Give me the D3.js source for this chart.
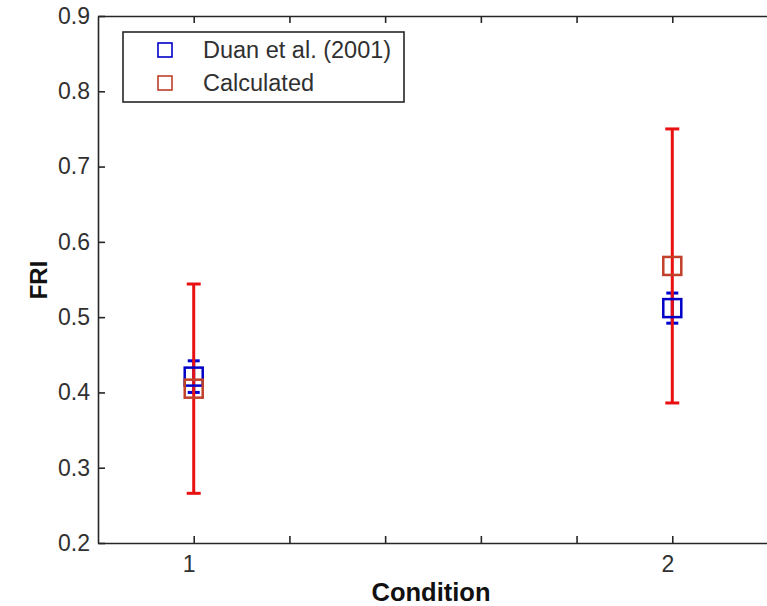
<!DOCTYPE html>
<meta charset="utf-8">
<style>
	body { margin: 0; background: #fff; font-family: Arial, "Liberation Sans", sans-serif; }
	.axis path, .axis line { stroke: #262626; stroke-width: 1.6; fill: none; }
	.axis text { fill: #303030; font-size: 23px; font-family: Arial, "Liberation Sans", sans-serif; }
</style>
<body>
<svg id="chart" width="767" height="606"></svg>
<script src="https://d3js.org/d3.v7.min.js"></script>
<script>
	// data
	var conditions = [1, 2];
	var duanMean = [0.421, 0.512];
	var duanErr = [0.021, 0.020];
	var calcMean = [0.405, 0.568];
	var calcErr = [0.139, 0.182];
	var seriesNames = ["Duan et al. (2001)", "Calculated"];
	var xTicks = [1, 1.2, 1.4, 1.6, 1.8, 2];
	var yTicks = [0.2, 0.3, 0.4, 0.5, 0.6, 0.7, 0.8, 0.9];

	var svg = d3.select("#chart"),
		mLeft = 98, mTop = 16, mBottom = 543, mRight = 768;

	var x = d3.scaleLinear().domain([0.8, 2.2]).range([mLeft, mRight]);
	var y = d3.scaleLinear().domain([0.2, 0.9]).range([mBottom, mTop]);

	// axes, ticks pointing inward like matlab
	svg.append("g")
		.attr("class", "axis")
		.attr("transform", "translate(0," + mBottom + ")")
		.call(d3.axisBottom(x).tickValues(xTicks).tickSizeInner(-7).tickSizeOuter(0).tickPadding(13)
			.tickFormat(function(d) { return (d == 1 || d == 2) ? d : ""; }))
		.selectAll("text").attr("dx", -5);

	svg.append("g")
		.attr("class", "axis")
		.attr("transform", "translate(0," + mTop + ")")
		.call(d3.axisTop(x).tickValues(xTicks).tickSizeInner(-7).tickSizeOuter(0).tickFormat(""));

	svg.append("g")
		.attr("class", "axis")
		.attr("transform", "translate(" + mLeft + ",0)")
		.call(d3.axisLeft(y).tickValues(yTicks).tickSizeInner(-7).tickSizeOuter(0).tickPadding(8)
			.tickFormat(d3.format(".1f")));

	// axis titles
	svg.append("text")
		.attr("x", 431).attr("y", 601)
		.attr("text-anchor", "middle")
		.style("font-size", "25.5px").style("font-weight", "bold").style("fill", "#111")
		.text("Condition");

	svg.append("text")
		.attr("transform", "translate(47,280) rotate(-90)")
		.attr("text-anchor", "middle")
		.style("font-size", "24px").style("font-weight", "bold").style("fill", "#111")
		.text("FRI");

	var series = [
		{ mean: duanMean, err: duanErr, bar: "#0000d0", mark: "#0000c8", cap: 6 },
		{ mean: calcMean, err: calcErr, bar: "#e81010", mark: "#c0402a", cap: 7 }
	];

	// error bars
	series.forEach(function(s) {
		var g = svg.append("g");
		conditions.forEach(function(c, i) {
			var cx = x(c), y1 = y(s.mean[i] + s.err[i]), y2 = y(s.mean[i] - s.err[i]);
			g.append("line").attr("x1", cx).attr("x2", cx).attr("y1", y1).attr("y2", y2)
				.attr("stroke", s.bar).attr("stroke-width", 3);
			[y1, y2].forEach(function(yy) {
				g.append("line").attr("x1", cx - s.cap).attr("x2", cx + s.cap).attr("y1", yy).attr("y2", yy)
					.attr("stroke", s.bar).attr("stroke-width", 3);
			});
		});
	});

	// square markers
	series.forEach(function(s) {
		svg.append("g").selectAll("rect")
			.data(conditions)
			.enter().append("rect")
			.attr("x", function(d) { return x(d) - 9; })
			.attr("y", function(d, i) { return y(s.mean[i]) - 9; })
			.attr("width", 18).attr("height", 18)
			.attr("fill", "none")
			.attr("stroke", s.mark)
			.attr("stroke-width", 2.5);
	});

	// legend
	var lg = svg.append("g");
	lg.append("rect")
		.attr("x", 123).attr("y", 32).attr("width", 281).attr("height", 70)
		.attr("fill", "#fff").attr("stroke", "#262626").attr("stroke-width", 1.6);
	seriesNames.forEach(function(name, i) {
		var yy = 50 + i * 33;
		lg.append("rect")
			.attr("x", 158).attr("y", yy - 7).attr("width", 14).attr("height", 14)
			.attr("fill", "none").attr("stroke", series[i].mark).attr("stroke-width", 1.6);
		lg.append("text")
			.attr("x", 203).attr("y", yy).attr("dy", "0.35em")
			.style("font-size", "23.5px").style("fill", "#303030")
			.text(name);
	});
</script>
</body>
